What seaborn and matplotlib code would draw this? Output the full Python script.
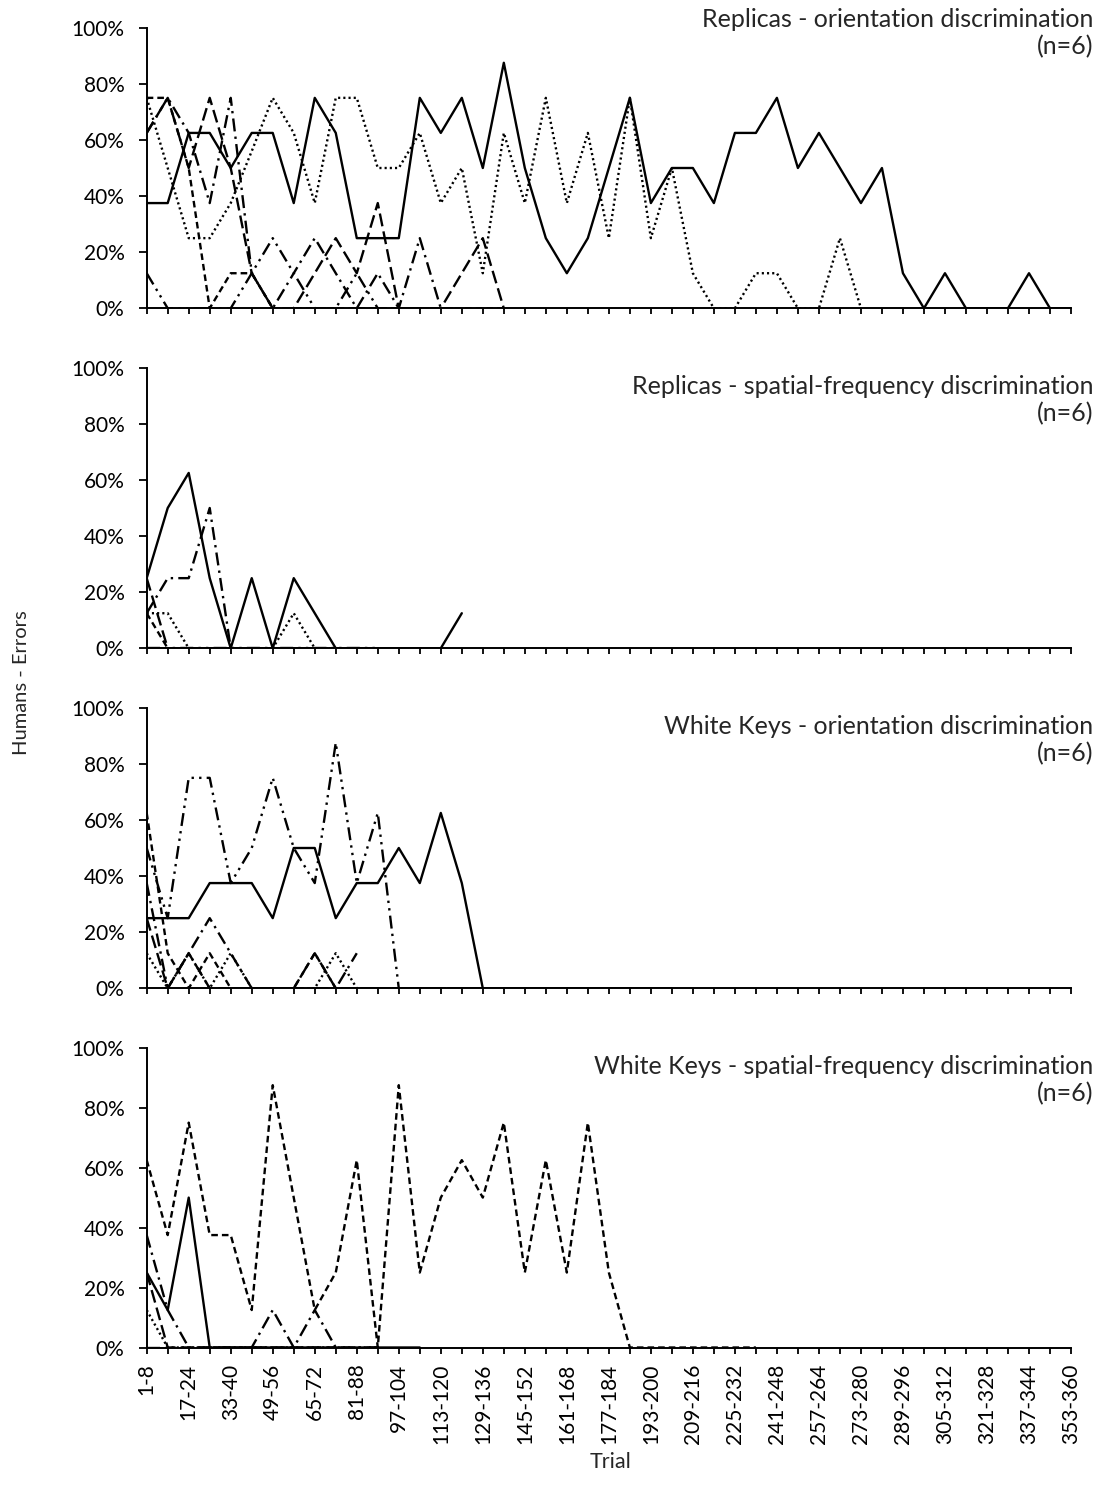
import numpy as np
import pandas as pd
import matplotlib
matplotlib.use("Agg")
import matplotlib.pyplot as plt
from matplotlib.ticker import PercentFormatter
import seaborn as sns

# trial bins (8 trials per bin)
bins = [f"{8 * i + 1}-{8 * i + 8}" for i in range(45)]
subjects = ["S1", "S2", "S3", "S4", "S5", "S6"]

titles = [
    "Replicas - orientation discrimination\n(n=6)",
    "Replicas - spatial-frequency discrimination\n(n=6)",
    "White Keys - orientation discrimination\n(n=6)",
    "White Keys - spatial-frequency discrimination\n(n=6)",
]

# --- Replicas - orientation (% errors per bin) ---
ro_s1 = [37.5, 37.5, 62.5, 62.5, 50, 62.5, 62.5, 37.5, 75, 62.5, 25, 25, 25, 75, 62.5,
         75, 50, 87.5, 50, 25, 12.5, 25, 50, 75, 37.5, 50, 50, 37.5, 62.5, 62.5,
         75, 50, 62.5, 50, 37.5, 50, 12.5, 0, 12.5, 0, 0, 0, 12.5, 0, 0]
ro_s2 = [75, 75, 50, 0, 12.5, 12.5, 0, 0, 0, 0, 0, 0, 0, 0, 0, 0, 0, 0]
ro_s3 = [75, 50, 25, 25, 37.5, 56, 75, 62.5, 37.5, 75, 75, 50, 50, 62.5, 37.5,
         50, 12.5, 62.5, 37.5, 75, 37.5, 62.5, 25, 75, 25, 50, 12.5, 0, 0, 12.5,
         12.5, 0, 0, 25, 0]
ro_s4 = [62.5, 75, 62.5, 37.5, 75, 12.5, 0, 12.5, 25, 12.5, 0, 12.5, 0, 25, 0]
ro_s5 = [62.5, 75, 50, 75, 50, 12.5, 0, 0, 12.5, 25, 12.5, 37.5, 0, 0, 0, 12.5, 25, 0]
ro_s6 = [12.5, 0, 0, 0, 0, 12.5, 25, 12.5, 0, 0, 12.5, 0, 0, 0, 0, 0]

# --- Replicas - spatial frequency ---
rs_s1 = [25, 50, 62.5, 25, 0, 25, 0, 25, 12.5, 0, 0, 0, 0, 0, 0, 12.5]
rs_s2 = [12.5, 0, 0, 0, 0, 0, 0, 0, 0, 0, 0, 0]
rs_s3 = [12.5, 12.5, 0, 0, 0, 0, 0, 12.5, 0, 0, 0, 0, 0]
rs_s4 = [12.5, 25, 25, 50, 0, 0, 0, 0, 0, 0, 0, 0, 0, 0]
rs_s5 = [25, 0, 0, 0, 0, 0, 0, 0, 0, 0, 0]
rs_s6 = [0, 0, 0, 0, 0, 0, 0, 0, 0, 0, 0, 0]

# --- White Keys - orientation ---
wo_s1 = [25, 25, 25, 37.5, 37.5, 37.5, 25, 50, 50, 25, 37.5, 37.5, 50, 37.5, 62.5,
         37.5, 0, 0, 0, 0, 0, 0, 0, 0, 0, 0]
wo_s2 = [62.5, 12.5, 0, 12.5, 0, 0, 0, 0, 12.5, 0, 0, 0, 0, 0, 0, 0, 0, 0, 0, 0, 0, 0]
wo_s3 = [12.5, 0, 12.5, 0, 12.5, 0, 0, 0, 0, 12.5, 0, 0, 0, 0, 0, 0, 0, 0]
wo_s4 = [37.5, 0, 12.5, 25, 12.5, 0, 0, 0, 0, 0, 12.5]
wo_s5 = [25, 0, 12.5, 0, 0, 0, 0, 0, 12.5, 0, 0, 0, 0, 0, 0, 0, 0, 0, 0, 0, 0, 0, 0, 0, 0, 0]
wo_s6 = [50, 25, 75, 75, 37.5, 50, 75, 50, 37.5, 87.5, 37.5, 62.5, 0, 0, 0, 0, 0, 0, 0, 0, 0]

# --- White Keys - spatial frequency ---
ws_s1 = [25, 12.5, 50, 0, 0, 0, 0, 0, 0, 0, 0, 0, 0, 0]
ws_s2 = [62.5, 37.5, 75, 37.5, 37.5, 12.5, 87.5, 50, 12.5, 25, 62.5, 0, 87.5, 25, 50,
         62.5, 50, 75, 25, 62.5, 25, 75, 25, 0, 0, 0, 0, 0, 0, 0]
ws_s3 = [12.5, 0, 0, 0, 0, 0, 0, 0, 0, 0, 0, 0]
ws_s4 = [37.5, 12.5, 0, 0, 0, 0, 12.5, 0, 12.5, 0, 0, 0]
ws_s5 = [25, 0, 0, 0, 0, 0, 0, 0, 0, 0]
ws_s6 = [0, 0, 0, 0, 0, 0, 0, 0]

panels = [
    [ro_s1, ro_s2, ro_s3, ro_s4, ro_s5, ro_s6],
    [rs_s1, rs_s2, rs_s3, rs_s4, rs_s5, rs_s6],
    [wo_s1, wo_s2, wo_s3, wo_s4, wo_s5, wo_s6],
    [ws_s1, ws_s2, ws_s3, ws_s4, ws_s5, ws_s6],
]

# excel-like line styles: solid, dash, round dot, long dash dot, long dash, long dash dot dot
dash_map = {
    "S1": "",
    "S2": (2.8, 1.7),
    "S3": (0.9, 1.3),
    "S4": (5.5, 2.2, 1, 2.2),
    "S5": (5.5, 2.2),
    "S6": (5.5, 2.2, 1, 2.2, 1, 2.2),
}

sns.set_style("ticks")
plt.rcParams["font.family"] = ["Lato", "DejaVu Sans"]

W, H = 1101, 1496
fig = plt.figure(figsize=(W / 100, H / 100), dpi=100)

# axes boxes in pixels: (top, bottom)
boxes = [(27.7, 308.3), (367.7, 648.3), (707.7, 988.3), (1047.7, 1347.5)]
title_y = [33, 400, 740, 1080]
x0, x1 = 146.7, 1071

for k, (series, (top, bot)) in enumerate(zip(panels, boxes)):
    ax = fig.add_axes([x0 / W, 1 - bot / H, (x1 - x0) / W, (bot - top) / H])
    rows = []
    for name, vals in zip(subjects, series):
        for i, v in enumerate(vals):
            rows.append({"bin": i, "err": v, "subject": name})
    df = pd.DataFrame(rows)
    sns.lineplot(
        data=df, x="bin", y="err", style="subject", style_order=subjects,
        dashes=dash_map, color="black", linewidth=1.7,
        estimator=None, errorbar=None, legend=False, ax=ax,
    )
    ax.set_xlim(0, len(bins) - 1)
    ax.set_ylim(0, 100)
    ax.set_yticks(np.arange(0, 101, 20))
    ax.yaxis.set_major_formatter(PercentFormatter(100, decimals=0))
    ax.set_xticks(range(len(bins)))
    ax.set_xlabel("")
    ax.set_ylabel("")
    ax.tick_params(axis="y", length=6, width=1.3, pad=10, labelsize=15, colors="black")
    ax.tick_params(axis="x", length=4.5, width=1.3, pad=7, labelsize=15, colors="black")
    if k == 3:
        ax.set_xticklabels([b if i % 2 == 0 else "" for i, b in enumerate(bins)],
                           rotation=90, va="top")
    else:
        ax.set_xticklabels([])
    for side in ["top", "right"]:
        ax.spines[side].set_visible(False)
    for side in ["left", "bottom"]:
        ax.spines[side].set_linewidth(1.4)
        ax.spines[side].set_color("black")
    ax.patch.set_alpha(0)
    fig.text(1093 / W, 1 - title_y[k] / H, titles[k], ha="right", va="center",
             multialignment="right", fontsize=18, linespacing=1.18)

fig.text(22 / W, 1 - 683 / H, "Humans - Errors", rotation=90, ha="center",
         va="center", fontsize=14.5)
fig.text(611 / W, 1 - 1462 / H, "Trial", ha="center", va="center", fontsize=15.5)

fig.savefig("out.png", dpi=100, facecolor="white")
